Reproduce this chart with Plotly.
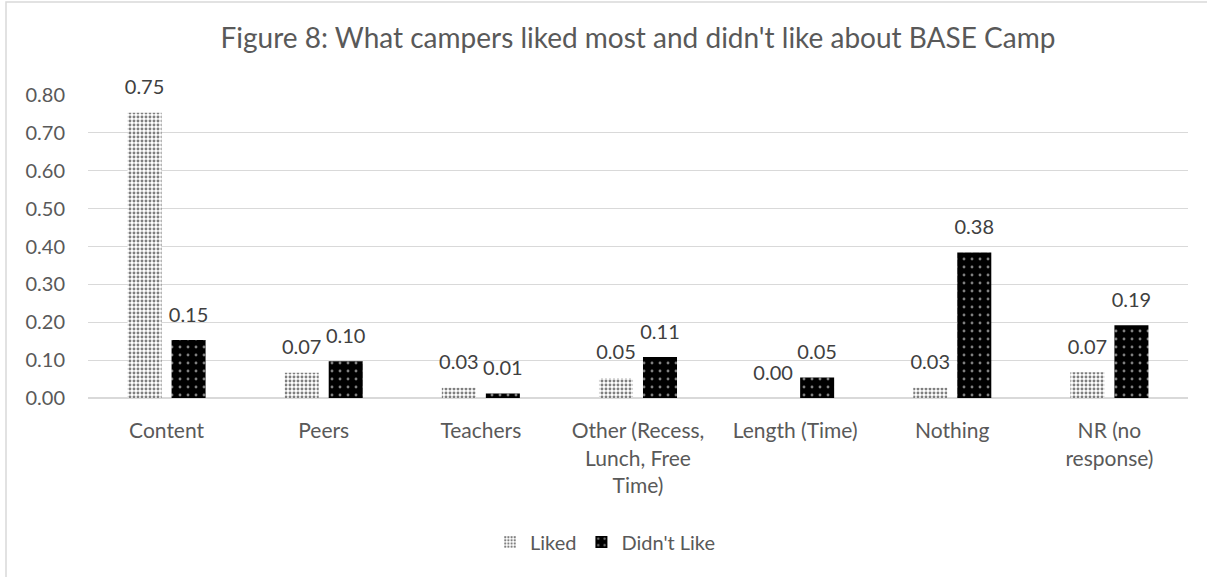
import plotly.graph_objects as go

categories = ["Content", "Peers", "Teachers", "Other (Recess,<br>Lunch, Free<br>Time)",
              "Length (Time)", "Nothing", "NR (no<br>response)"]
liked = [0.753, 0.067, 0.027, 0.053, 0.0, 0.027, 0.068]
didnt_like = [0.153, 0.097, 0.012, 0.108, 0.054, 0.384, 0.192]
series_names = ["Liked", "Didn't Like"]

FONT = "Lato, 'Open Sans', sans-serif"
GREY = "#595959"

patterns = [
    dict(shape=".", fgcolor="black", bgcolor="white", size=4, solidity=0.42, fillmode="overlay"),
    dict(shape=".", fgcolor="white", bgcolor="black", size=8, solidity=0.1, fillmode="overlay"),
]
fills = ["white", "black"]

fig = go.Figure()
for i, (name, vals) in enumerate(zip(series_names, [liked, didnt_like])):
    fig.add_trace(go.Bar(
        name=name, x=categories, y=vals, offsetgroup=str(i),
        marker=dict(color=fills[i], line=dict(width=0), pattern=patterns[i]),
    ))
for i, (name, vals) in enumerate(zip(series_names, [liked, didnt_like])):
    fig.add_trace(go.Scatter(
        name=name + " labels", x=categories, y=vals, offsetgroup=str(i),
        mode="markers+text", text=[f"{v:.2f}" for v in vals], textposition="top center",
        textfont=dict(size=20, color="#404040", family=FONT),
        marker=dict(size=20, color="rgba(0,0,0,0)"),
        showlegend=False, cliponaxis=False, hoverinfo="skip",
    ))

fig.update_layout(
    width=1207, height=577,
    margin=dict(l=88, r=19, t=95, b=179),
    paper_bgcolor="white", plot_bgcolor="white",
    font=dict(family=FONT, color=GREY, size=20),
    title=dict(text="Figure 8: What campers liked most and didn't like about BASE Camp",
               x=0.5, xref="paper", xanchor="center", y=1 - 38/577, yanchor="middle",
               font=dict(size=28, color=GREY, family=FONT)),
    barmode="group", bargap=0.44, bargroupgap=0.227,
    scattermode="group", scattergap=0.44,
    showlegend=True,
    legend=dict(orientation="h", x=0.47, xanchor="center", y=-0.475, yanchor="middle",
                font=dict(size=20, color=GREY, family=FONT), itemwidth=30),
    xaxis=dict(showgrid=False, showline=False, ticks="outside", ticklen=14,
               tickcolor="rgba(0,0,0,0)", tickfont=dict(size=21, color=GREY)),
    yaxis=dict(range=[0, 0.8001], dtick=0.1, tickformat=".2f", showgrid=True,
               gridcolor="#d9d9d9", gridwidth=1, zeroline=True, zerolinecolor="#d9d9d9",
               showline=False, ticks="outside", ticklen=18, tickcolor="rgba(0,0,0,0)",
               tickfont=dict(size=20, color=GREY)),
    shapes=[dict(type="rect", xref="paper", yref="paper",
                 x0=(6 - 88) / 1100, x1=1.2, y0=-1.0, y1=(398 - 2) / 303,
                 line=dict(color="#d9d9d9", width=1.5), fillcolor="rgba(0,0,0,0)",
                 layer="below")],
)
fig.write_html("out.html")
